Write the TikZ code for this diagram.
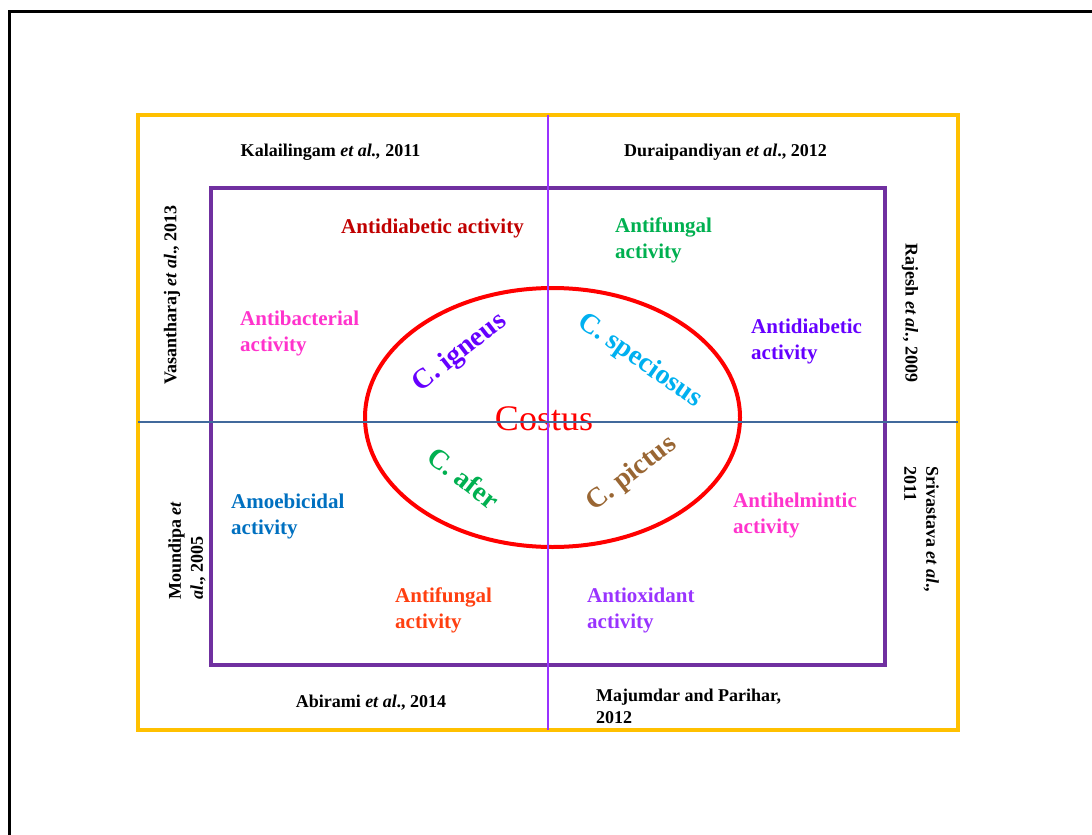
\documentclass[tikz,border=0pt]{standalone}
\usepackage{fontspec}
\setmainfont{Liberation Serif}
\definecolor{yellowc}{HTML}{FFC000}
\definecolor{purplec}{HTML}{7030A0}
\definecolor{vline}{HTML}{9933FF}
\definecolor{hline}{HTML}{41699C}
\definecolor{darkred}{HTML}{C00000}
\definecolor{pinkc}{HTML}{FF33CC}
\definecolor{greenc}{HTML}{00B050}
\definecolor{violetc}{HTML}{6600FF}
\definecolor{bluec}{HTML}{0070C0}
\definecolor{orangec}{HTML}{FF3F10}
\definecolor{lilac}{HTML}{9933FF}
\definecolor{cyanc}{HTML}{00B0F0}
\definecolor{brownc}{HTML}{996633}
\begin{document}
\begin{tikzpicture}[x=1pt,y=-1pt,
  cite/.style={font=\fontsize{18}{22}\selectfont\bfseries, text=black, inner sep=0pt, align=left},
  act/.style={font=\fontsize{21}{26}\selectfont\bfseries, inner sep=0pt, align=left, anchor=west},
  spec/.style={font=\fontsize{28}{30}\selectfont\bfseries, inner sep=0pt},
]
\useasboundingbox (0,0) rectangle (1092,835);
% outer black frame
\coordinate (bTL) at (9.7,11.3);
\coordinate (bTR) at (1095,11.3);
\coordinate (bBL) at (9.7,840);
\draw[line width=2.7pt] (bTR) -- (bTL) -- (bBL);
% yellow and purple frames
\coordinate (yTL) at (138,114.5);
\coordinate (yBR) at (958,730);
\draw[yellowc, line width=4pt] (yTL) rectangle (yBR);
\coordinate (pTL) at (210.5,188);
\coordinate (pBR) at (885,665);
\draw[purplec, line width=4pt] (pTL) rectangle (pBR);
% ellipse and Costus
\coordinate (ec) at (552.5,417.5);
\draw[red, line width=4pt] (ec) ellipse [x radius=187.5pt, y radius=129.5pt];
\node[font=\fontsize{36}{40}\selectfont, text=red, inner sep=0pt] (costus) at (544,419) {Costus};
% axes
\coordinate (vT) at (548,114.5);
\coordinate (vB) at (548,730);
\coordinate (hL) at (138,422);
\coordinate (hR) at (958,422);
\draw[vline, line width=1.8pt] (vT) -- (vB);
\draw[hline, line width=1.8pt] (hL) -- (hR);
% species
\node[spec, text=violetc, rotate=38] (ign) at (460,353) {C. igneus};
\node[spec, text=cyanc, rotate=-35] (spe) at (640,361) {C. speciosus};
\node[spec, text=greenc, rotate=-38] (afe) at (464,478) {C. afer};
\node[spec, text=brownc, rotate=38] (pic) at (632,474) {C. pictus};
% activities
\node[act, text=darkred] (a1) at (341,228) {Antidiabetic activity};
\node[act, text=greenc] (a2) at (615,240) {Antifungal\\activity};
\node[act, text=pinkc] (a3) at (240,333) {Antibacterial\\activity};
\node[act, text=violetc] (a4) at (751,341.5) {Antidiabetic\\activity};
\node[act, text=bluec] (a5) at (231,516.5) {Amoebicidal\\activity};
\node[act, text=pinkc] (a6) at (733,515) {Antihelmintic\\activity};
\node[act, text=orangec] (a7) at (395,610) {Antifungal\\activity};
\node[act, text=lilac] (a8) at (587,610) {Antioxidant\\activity};
% citations
\node[cite] (c1) at (330.5,152) {Kalailingam \textit{et al.,} 2011};
\node[cite] (c2) at (725.5,152) {Duraipandiyan \textit{et al}., 2012};
\node[cite] (c3) at (371,703) {Abirami \textit{et al}., 2014};
\node[cite, anchor=west] (c4) at (596,706) {Majumdar and Parihar,\\2012};
\node[cite, rotate=90] (c5) at (172,295) {Vasantharaj \textit{et al}., 2013};
\node[cite, rotate=90, anchor=west] (c6) at (187,600) {Moundipa \textit{et}\\\textit{al}., 2005};
\node[cite, rotate=-90] (c7) at (910,313) {Rajesh \textit{et al}., 2009};
\node[cite, rotate=-90, anchor=west] (c8) at (921.5,466) {Srivastava \textit{et al}.,\\2011};
\end{tikzpicture}
\end{document}
